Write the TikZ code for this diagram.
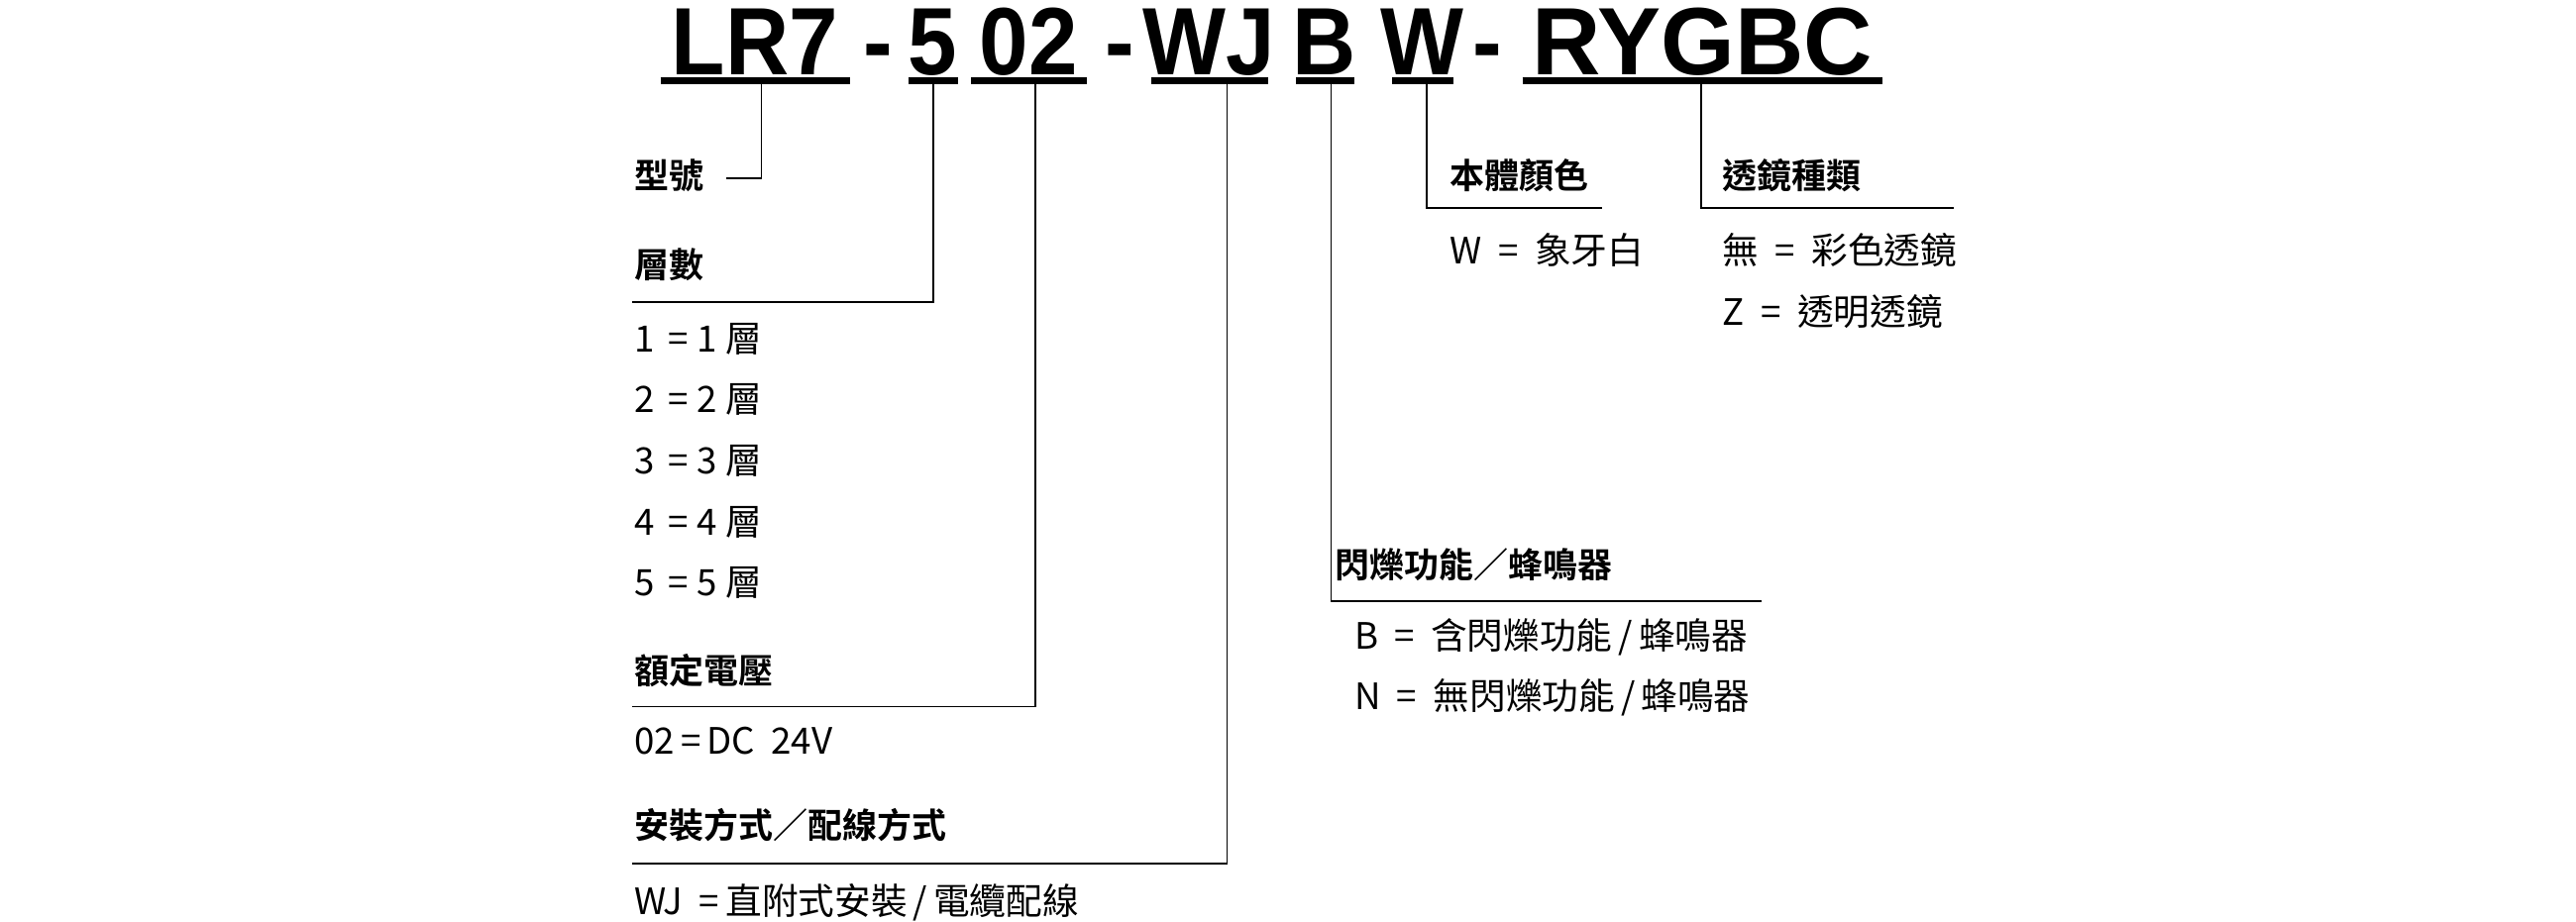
\documentclass[tikz,border=0pt]{standalone}
\usepackage{fontspec}
\setmainfont{Liberation Sans}
\newfontfamily\cjk{Noto Sans CJK TC}
\newfontfamily\cjkbold{Noto Sans CJK TC Bold}
\tikzset{
  code/.style = {font=\fontsize{58}{58}\selectfont\bfseries, inner sep=0pt, anchor=base, xscale=0.92},
  bar/.style = {line width=4pt},
  lead/.style = {draw, line width=1pt},
  title/.style = {font=\fontsize{21}{21}\cjkbold, inner sep=0pt, anchor=base west},
  item/.style = {font=\fontsize{22}{22}\cjk, inner sep=0pt, anchor=base west}
}
\begin{document}
\begin{tikzpicture}[x=1pt, y=-1pt]
  \useasboundingbox (0,0) rectangle (1560,558);
  % model code
  \node [code] (lr) at (457,45) {LR7};
  \node [code] at (532,45) {-};
  \node [code] (layer) at (565,45) {5};
  \node [code] (volt) at (623,45) {02};
  \node [code] at (678,45) {-};
  \node [code] (mount) at (732,45) {WJ};
  \node [code] (flash) at (802,45) {B};
  \node [code] (body) at (861,45) {W};
  \node [code] at (901,45) {-};
  \node [code, xscale=1.08] (lens) at (1031,45) {RYGBC};
  \draw [bar] (400,49) -- (515,49);
  \draw [bar] (550,49) -- (580,49);
  \draw [bar] (588,49) -- (658,49);
  \draw [bar] (697,49) -- (768,49);
  \draw [bar] (785,49) -- (820,49);
  \draw [bar] (843,49) -- (880,49);
  \draw [bar] (922,49) -- (1140,49);
  % headings
  \node [title] (model) at (384,114) {型號};
  \node [title] (count) at (384,168) {層數};
  \node [title] (rated) at (384,414) {額定電壓};
  \node [title] (wiring) at (384,508) {安裝方式／配線方式};
  \node [title] (blink) at (808,350) {閃爍功能／蜂鳴器};
  \node [title] (color) at (878,114) {本體顏色};
  \node [title] (kind) at (1043,114) {透鏡種類};
  % options
  \foreach \n [count=\i] in {1,...,5}
    \node [item] (count\i) at (384,{213+(\i-1)*37}) {\n\ \,=\ \n\ 層};
  \node [item] (rated1) at (384,457) {02\,=\,DC\ \ 24V};
  \node [item] (wiring1) at (384,554) {WJ\ \ =\,直附式安裝\,/\,電纜配線};
  \node [item] (blink1) at (820,393) {B\ \ =\ \ 含閃爍功能\,/\,蜂鳴器};
  \node [item] (blink2) at (820,430) {N\ \ =\ \ 無閃爍功能\,/\,蜂鳴器};
  \node [item] (color1) at (878,160) {W\ \ =\ \ 象牙白};
  \node [item] (kind1) at (1043,160) {無\ \ =\ \ 彩色透鏡};
  \node [item] (kind2) at (1043,197) {Z\ \ =\ \ 透明透鏡};
  % leaders
  \path [lead] (461,51) |- (440,108);
  \path [lead] (565,51) |- (383,183);
  \path [lead] (627,51) |- (383,428);
  \path [lead] (743,51) |- (383,523);
  \path [lead] (806,51) |- (1067,364);
  \path [lead] (864,51) |- (970,126);
  \path [lead] (1030,51) |- (1183,126);
\end{tikzpicture}
\end{document}
